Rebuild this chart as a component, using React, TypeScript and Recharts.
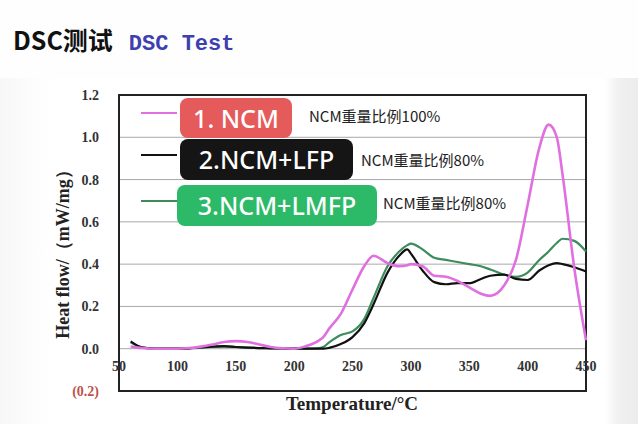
import React from "react";
import { LineChart, Line, XAxis, YAxis, CartesianGrid, ReferenceArea } from "recharts";

const temps = [
  60, 70, 80, 90, 100, 110, 120, 130, 140, 150, 160, 170, 180, 190, 200, 210, 220, 225, 230, 240,
  250, 260, 268, 280, 290, 297, 300, 310, 320, 330, 340, 350, 360, 368, 380, 390, 400, 410, 418,
  425, 430, 440, 450,
];

const ncm = [
  0.01, 0.003, 0, 0, 0, 0.003, 0.01, 0.02, 0.032, 0.036, 0.032, 0.02, 0.008, 0.002, 0, 0.012, 0.035,
  0.055, 0.095, 0.165, 0.28, 0.39, 0.44, 0.405, 0.39, 0.395, 0.4, 0.39, 0.345, 0.34, 0.32, 0.29,
  0.26, 0.25, 0.3, 0.42, 0.68, 0.95, 1.06, 1.0, 0.82, 0.38, 0.04,
];

const ncmLfp = [
  0.035, 0.006, 0.001, 0, 0, 0.002, 0.006, 0.01, 0.012, 0.008, 0.005, 0.003, 0.002, 0.001, 0, 0, 0,
  0, 0.004, 0.022, 0.055, 0.12, 0.21, 0.36, 0.44, 0.47, 0.45, 0.37, 0.315, 0.305, 0.31, 0.31, 0.33,
  0.345, 0.35, 0.33, 0.325, 0.37, 0.395, 0.405, 0.4, 0.385, 0.365,
];

const ncmLmfp = [
  0.03, 0.005, 0.001, 0, 0, 0.002, 0.005, 0.008, 0.01, 0.008, 0.005, 0.003, 0.002, 0.001, 0, 0,
  0.002, 0.008, 0.03, 0.065, 0.082, 0.14, 0.24, 0.39, 0.46, 0.49, 0.497, 0.47, 0.43, 0.42, 0.41, 0.4,
  0.39, 0.375, 0.35, 0.34, 0.36, 0.42, 0.46, 0.5, 0.52, 0.51, 0.46,
];

const xTicks = [50, 100, 150, 200, 250, 300, 350, 400, 450];
const yTicks = [-0.2, 0, 0.2, 0.4, 0.6, 0.8, 1.0, 1.2];

const badges = [
  { label: "1. NCM", note: "NCM重量比例100%", color: "#e55a5a", line: "#e070e0" },
  { label: "2.NCM+LFP", note: "NCM重量比例80%", color: "#151515", line: "#111111" },
  { label: "3.NCM+LMFP", note: "NCM重量比例80%", color: "#2cba68", line: "#3d8c5c" },
];

const data = temps.map((t, i) => ({ t, ncm: ncm[i], lfp: ncmLfp[i], lmfp: ncmLmfp[i] }));

const serif = "'Liberation Serif', 'Times New Roman', serif";
const sans = "'Noto Sans CJK SC', 'Noto Sans', sans-serif";

function XTick(props: any) {
  const { x, y, payload } = props;
  return (
    <text x={x} y={y - 28} textAnchor="middle" fontFamily={serif} fontWeight="bold" fontSize={14} fill="#333">
      {payload.value}
    </text>
  );
}

function YTick(props: any) {
  const { x, y, payload } = props;
  const neg = payload.value < 0;
  return (
    <text
      x={x}
      y={y + 5}
      textAnchor="end"
      fontFamily={serif}
      fontWeight="bold"
      fontSize={14}
      fill={neg ? "#c0504d" : "#333"}
    >
      {neg ? `(${Math.abs(payload.value).toFixed(1)})` : payload.value.toFixed(1)}
    </text>
  );
}

const badgeBoxes = [
  { left: 180, top: 98, width: 112, height: 40, noteLeft: 309, noteTop: 116 },
  { left: 180, top: 139, width: 173, height: 41, noteLeft: 361, noteTop: 160 },
  { left: 177, top: 185, width: 200, height: 41, noteLeft: 383, noteTop: 203 },
];

export default function App() {
  return (
    <div
      style={{
        position: "absolute",
        left: 0,
        top: 0,
        width: 638,
        height: 424,
        overflow: "hidden",
        background: "linear-gradient(90deg, #f7f7f7 0px, #fdfdfd 35px, #ffffff 60px, #ffffff 605px, #f1f1f1 618px, #ececec 638px)",
      }}
    >
      <div style={{ position: "absolute", left: 0, top: 0, width: 638, height: 78, background: "#fefefe" }} />
      <div
        style={{
          position: "absolute",
          left: 13,
          top: 21,
          fontFamily: sans,
          fontWeight: "bold",
          fontSize: 25,
          color: "#111",
          whiteSpace: "nowrap",
        }}
      >
        DSC测试
        <span
          style={{
            fontFamily: "'Liberation Mono', monospace",
            fontWeight: "bold",
            fontSize: 22,
            color: "#3c40b0",
            marginLeft: 16,
          }}
        >
          DSC Test
        </span>
      </div>

      <div style={{ position: "absolute", left: 0, top: 0 }}>
        <LineChart width={638} height={424} data={data} margin={{ top: 95, right: 52, bottom: 32, left: 64 }}>
          <CartesianGrid stroke="#a8a8a8" vertical={false} horizontal={true} />
          <XAxis
            dataKey="t"
            type="number"
            domain={[50, 450]}
            ticks={xTicks}
            axisLine={false}
            tickLine={false}
            tick={<XTick />}
            height={1}
            interval={0}
          />
          <YAxis
            type="number"
            domain={[-0.2, 1.2]}
            ticks={yTicks}
            axisLine={false}
            tickLine={false}
            tick={<YTick />}
            width={55}
            tickMargin={14}
            interval={0}
          />
          <ReferenceArea x1={50} x2={450} y1={-0.2} y2={1.2} fill="none" stroke="#222" strokeWidth={2} ifOverflow="visible" />
          <Line type="monotone" dataKey="lmfp" stroke="#3d8c5c" strokeWidth={2.2} dot={false} isAnimationActive={false} />
          <Line type="monotone" dataKey="lfp" stroke="#111111" strokeWidth={2.2} dot={false} isAnimationActive={false} />
          <Line type="monotone" dataKey="ncm" stroke="#e070e0" strokeWidth={2.6} dot={false} isAnimationActive={false} />
        </LineChart>
      </div>

      {badges.map((b, i) => {
        const box = badgeBoxes[i];
        const lineY = box.top + box.height / 2 - 6;
        return (
          <React.Fragment key={b.label}>
            <div
              style={{
                position: "absolute",
                left: 141,
                top: lineY,
                width: 36,
                height: 2,
                background: b.line,
              }}
            />
            <div
              style={{
                position: "absolute",
                left: box.left,
                top: box.top,
                width: box.width,
                height: box.height,
                borderRadius: 8,
                background: b.color,
                color: "#fff",
                fontFamily: "'Noto Sans', 'Open Sans', sans-serif",
                fontWeight: 500,
                fontSize: 25,
                lineHeight: `${box.height}px`,
                textAlign: "center",
                whiteSpace: "nowrap",
              }}
            >
              {b.label}
            </div>
            <div
              style={{
                position: "absolute",
                left: box.noteLeft,
                top: box.noteTop - 11,
                fontFamily: sans,
                fontSize: 15,
                lineHeight: "22px",
                color: "#222",
                whiteSpace: "nowrap",
              }}
            >
              {b.note}
            </div>
          </React.Fragment>
        );
      })}

      <div
        style={{
          position: "absolute",
          left: 63,
          top: 250,
          transform: "translate(-50%, -50%) rotate(-90deg)",
          fontFamily: serif,
          fontWeight: "bold",
          fontSize: 18,
          color: "#222",
          whiteSpace: "nowrap",
        }}
      >
        Heat flow/（mW/mg）
      </div>
      <div
        style={{
          position: "absolute",
          left: 352,
          top: 404,
          transform: "translate(-50%, -50%)",
          fontFamily: serif,
          fontWeight: "bold",
          fontSize: 19,
          color: "#222",
          whiteSpace: "nowrap",
        }}
      >
        Temperature/°C
      </div>
    </div>
  );
}
